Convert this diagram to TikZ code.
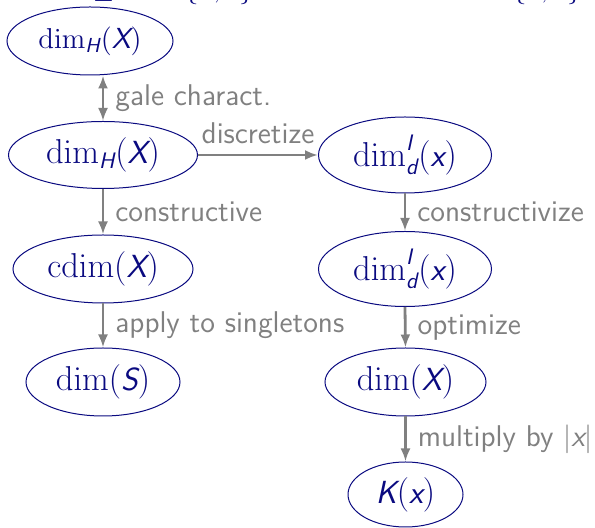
\documentclass[tikz,border=0pt]{standalone}
\usepackage{amsmath}
\usetikzlibrary{shapes.geometric,arrows.meta}

\definecolor{nodeblue}{RGB}{10,10,128}
\definecolor{edgegray}{RGB}{128,128,128}

% sans-serif italic variables, as in slide-style math
\newcommand{\sv}[1]{\text{\sffamily\itshape #1}}
\DeclareMathOperator{\cdimop}{cdim}

\begin{document}
\begin{tikzpicture}[x=0.5pt,y=-0.5pt,
  >={Latex[length=6.5pt,width=5pt]},
  state/.style={ellipse, draw=nodeblue, text=nodeblue, line width=0.5pt,
    inner sep=0pt, font=\fontsize{16}{19}\selectfont},
  link/.style={draw=edgegray, line width=1.4pt, ->},
  lab/.style={text=edgegray, inner sep=0pt,
    font=\fontsize{15}{18}\selectfont\sffamily},
  topline/.style={anchor=base west, text=nodeblue, inner sep=0pt,
    font=\fontsize{15}{18}\selectfont}]
\useasboundingbox (0,0) rectangle (595,528);

% header line (lies just above the top edge)
\node[topline] (setC) at (65,-2.5) {$\sv{X}\subseteq\mathbf{C}=\{0,1\}^\infty$};
\node[topline] (strx) at (463,-2.5) {$\sv{x}\in\{0,1\}^*$};

% left column
\node[state, minimum width=83pt, minimum height=34pt,
      font=\fontsize{14.5}{17}\selectfont] (hd) at (90,41) {$\dim_{\sv{H}}(\sv{X})$};
\node[state, minimum width=94.5pt, minimum height=33.5pt] (hd2) at (103,155) {$\dim_{\sv{H}}(\sv{X})$};
\node[state, minimum width=90pt, minimum height=34pt] (cd) at (103,269) {$\cdimop(\sv{X})$};
\node[state, minimum width=77pt, minimum height=34pt] (ds) at (103,382) {$\dim(\sv{S})$};

% right column
\node[state, minimum width=86.5pt, minimum height=38pt] (dl) at (405,155) {$\dim^{\sv{I}}_{\sv{d}}(\sv{x})$};
\node[state, minimum width=86.5pt, minimum height=37.5pt] (dl2) at (405,269) {$\dim^{\sv{I}}_{\sv{d}}(\sv{x})$};
\node[state, minimum width=80.5pt, minimum height=34pt] (dx) at (405.5,382) {$\dim(\sv{X})$};
\node[state, minimum width=57.5pt, minimum height=32.5pt] (kx) at (405.5,494.5) {$\sv{K}(\sv{x})$};

% connectors
\draw[link, <->]
  (hd2.north) -- (hd2.north |- hd.south)
  node[midway, right=5.5pt, lab] (l1) {gale charact.};
\draw[link] (hd2.east) -- (dl.west)
  node[midway, above=5pt, lab] (l2) {discretize};
\draw[link] (hd2.south) -- (cd.north)
  node[midway, right=5.5pt, lab] (l3) {constructive};
\draw[link] (cd.south) -- (ds.north)
  node[midway, right=5.5pt, lab] (l4) {apply to singletons};
\draw[link] (dl.south) -- (dl2.north)
  node[midway, right=5.5pt, lab] (l5) {constructivize};
\draw[link] (dl2.south) -- (dx.north)
  node[midway, right=5.5pt, lab] (l6) {optimize};
\draw[link] (dx.south) -- (kx.north)
  node[midway, right=5.5pt, lab] (l7) {multiply by $|\sv{x}|$};
\end{tikzpicture}
\end{document}
